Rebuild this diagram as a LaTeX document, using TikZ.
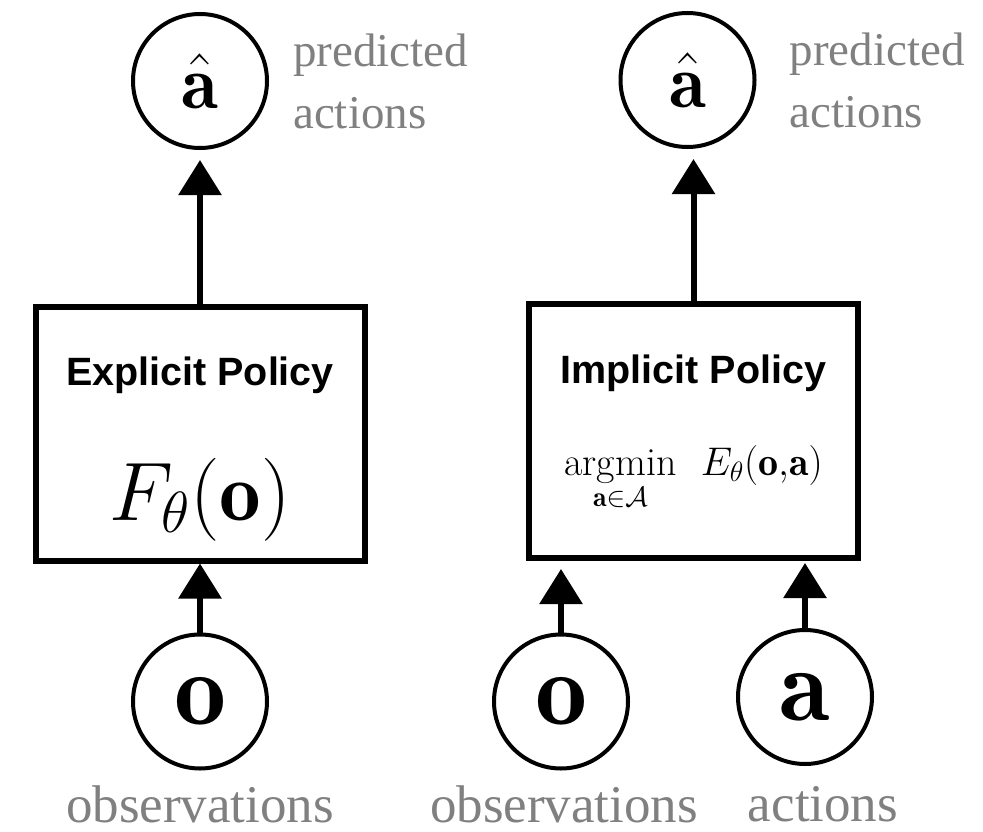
\RequirePackage{fix-cm}
\documentclass[tikz,border=0pt]{standalone}
\usepackage{amsmath}
\usepackage{fontspec}
\newfontfamily\serifgray{Liberation Serif}
\newfontfamily\headsans{Liberation Sans}
\usepackage{tikz}
\usetikzlibrary{arrows.meta,positioning}
\definecolor{labelgray}{RGB}{128,128,128}
\tikzset{
    %Define standard arrow tip
    >={Triangle[length=35pt,width=42pt]},
    %Define style for variables
    var/.style={
           circle,
           draw=black, line width=4pt,
           minimum size=134pt,
           inner sep=0pt,
           text centered},
    %Define style for policy boxes
    policy/.style={
           rectangle,
           draw=black, line width=6pt,
           minimum width=329pt,
           minimum height=254pt},
    heading/.style={
           font=\headsans\bfseries\fontsize{39.5}{46}\selectfont,
           anchor=base},
    formula/.style={
           anchor=base},
    lbl/.style={
           text=labelgray,
           font=\serifgray\fontsize{47}{62}\selectfont,
           align=left,
           inner sep=0pt},
    lblbig/.style={
           text=labelgray,
           font=\serifgray\fontsize{53}{60}\selectfont,
           inner sep=0pt},
    % Define arrow style
    pil/.style={
           ->,
           line width=6pt}
}

\begin{document}
\begin{tikzpicture}[x=1pt,y=-1pt,node distance=24pt]
\useasboundingbox (0,0) rectangle (983,832);
% explicit policy
\node[policy](boxL) at (200,433.5){};
\node[heading](headL) at ([yshift=-81.5pt]boxL.north){Explicit Policy};
\node[formula,font=\fontsize{83}{90}\selectfont](fL) at ([yshift=-216.5pt]boxL.north){$F_\theta(\mathbf{o})$};
\node[var, above=153.5pt of boxL, font=\fontsize{76}{80}\selectfont](ahatL){$\hat{\mathbf{a}}$};
\node[var, below=69pt of boxL, font=\fontsize{104}{110}\selectfont](oL){$\mathbf{o}$};
\node[lbl, right=24pt of ahatL](predL){predicted\\actions};
\node[lblbig, below=15pt of oL](obsL){observations};
% implicit policy
\node[policy](boxR) at (693.5,431){};
\node[heading](headR) at ([yshift=-82pt]boxR.north){Implicit Policy};
\node[formula,font=\fontsize{40}{46}\selectfont](fR) at ([yshift=-174pt]boxR.north){$\displaystyle\operatorname*{argmin}_{\mathbf{a}\in\mathcal{A}}\mkern8mu E_\theta(\mathbf{o}{,}\mathbf{a})$};
\node[var, above=152pt of boxR, xshift=-6pt, font=\fontsize{76}{80}\selectfont](ahatR){$\hat{\mathbf{a}}$};
\node[var, below=71.5pt of boxR, xshift=-132.5pt, font=\fontsize{104}{110}\selectfont](oR){$\mathbf{o}$};
\node[var, below=67pt of boxR, xshift=111.5pt, font=\fontsize{104}{110}\selectfont](aR){$\mathbf{a}$};
\node[lbl, right=33pt of ahatR](predR){predicted\\actions};
\node[lblbig, below=15pt of oR, xshift=3pt](obsR){observations};
\node[lblbig, below=20pt of aR, xshift=18pt](actR){actions};
% arrows
\draw[pil, shorten >=10pt] (boxL.north) -- (ahatL.south);
\draw[pil, shorten >=10pt] (boxR.north) -- (boxR.north |- ahatR.south);
\draw[pil] (oL) -- (oL |- boxL.south);
\draw[pil, shorten >=8pt] (oR) -- (oR |- boxR.south);
\draw[pil, shorten >=2pt] (aR) -- (aR |- boxR.south);
\end{tikzpicture}
\end{document}
